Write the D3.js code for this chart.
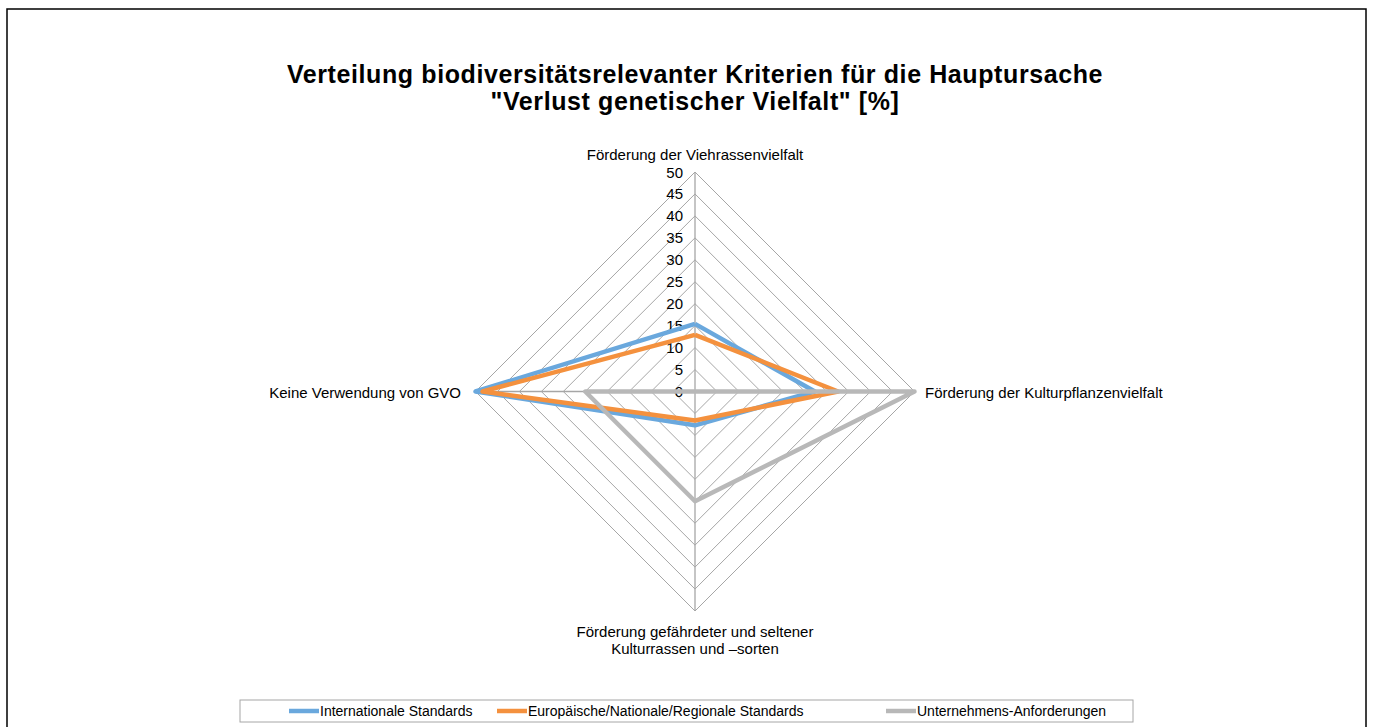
<!DOCTYPE html>
<html><head><meta charset="utf-8">
<script src="https://cdn.jsdelivr.net/npm/d3@7"></script>
<style>body{margin:0;background:#fff}svg{display:block}text{font-family:"Liberation Sans",Arial,sans-serif}</style>
</head><body>
<svg id="c" width="1375" height="727"></svg>
<script>
const categories = ["Förderung der Viehrassenvielfalt","Förderung der Kulturpflanzenvielfalt","Förderung gefährdeter und seltener\nKulturrassen und –sorten","Keine Verwendung von GVO"];
const seriesNames = ["Internationale Standards","Europäische/Nationale/Regionale Standards","Unternehmens-Anforderungen"];
const internationale = [15.4, 27.3, 7.7, 50];
const europaeische = [12.9, 32.6, 6.6, 48.4];
const unternehmen = [0, 50, 25, 25];
const ticks = [0,5,10,15,20,25,30,35,40,45,50];
const colors = ["#6AA8DD","#F4913E","#B8B8B8"];
const seriesVals = [internationale, europaeische, unternehmen];

const svg = d3.select("#c");
svg.append("rect").attr("x",7).attr("y",9).attr("width",1359).attr("height",740).attr("fill","#fff").attr("stroke","#000").attr("stroke-width",1.5);

const cx = 695, cy = 391.5, R = 219.5;
const r = d3.scaleLinear().domain([0,50]).range([0,R]);
const ang = i => i*Math.PI/2; // 0 = top, clockwise
const pt = (i,v) => [cx + r(v)*Math.sin(ang(i)), cy - r(v)*Math.cos(ang(i))];

// grid
const g = svg.append("g");
ticks.filter(t=>t>0).forEach(t=>{
  g.append("path").attr("d", d3.line()(categories.map((c,i)=>pt(i,t)).concat([pt(0,t)])))
   .attr("fill","none").attr("stroke","#a6a6a6").attr("stroke-width",1);
});
categories.forEach((c,i)=>{
  g.append("line").attr("x1",cx).attr("y1",cy).attr("x2",pt(i,50)[0]).attr("y2",pt(i,50)[1])
   .attr("stroke","#a6a6a6").attr("stroke-width",1.3);
});
// tick labels
ticks.forEach(t=>{
  svg.append("text").attr("x",cx-12).attr("y",cy - r(t)+5.5).attr("text-anchor","end")
   .attr("font-size",15).attr("fill","#000").text(t);
});

// series
const line = d3.line();
seriesVals.forEach((vals,s)=>{
  const pts = vals.map((v,i)=>pt(i,v)); pts.push(pts[0]);
  svg.append("path").attr("d",line(pts)).attr("fill","none").attr("stroke",colors[s])
   .attr("stroke-width",4.5).attr("stroke-linejoin","round");
});

// category labels
const lab = (x,y,anchor,txt)=>{
  const lines = txt.split("\n");
  const t = svg.append("text").attr("x",x).attr("y",y).attr("text-anchor",anchor).attr("font-size",15).attr("fill","#000");
  lines.forEach((l,k)=>t.append("tspan").attr("x",x).attr("dy",k?17:0).text(l));
};
lab(cx, 160, "middle", categories[0]);
lab(925, 398, "start", categories[1]);
lab(cx, 637, "middle", categories[2]);
lab(461, 398, "end", categories[3]);

// title
svg.append("text").attr("x",cx).attr("y",83).attr("text-anchor","middle").attr("font-size",25).attr("letter-spacing",0.6).attr("font-weight","bold").text("Verteilung biodiversitätsrelevanter Kriterien für die Hauptursache");
svg.append("text").attr("x",cx).attr("y",110).attr("text-anchor","middle").attr("font-size",25).attr("letter-spacing",0.6).attr("font-weight","bold").text("\"Verlust genetischer Vielfalt\" [%]");

// legend
svg.append("rect").attr("x",240).attr("y",700).attr("width",893).attr("height",22).attr("fill","#fff").attr("stroke","#a6a6a6").attr("stroke-width",1);
const legX = [289, 497, 886];
seriesNames.forEach((n,s)=>{
  svg.append("line").attr("x1",legX[s]).attr("x2",legX[s]+30).attr("y1",711).attr("y2",711).attr("stroke",colors[s]).attr("stroke-width",4.5);
  svg.append("text").attr("x",legX[s]+31).attr("y",716).attr("font-size",14).text(n);
});
</script>
</body></html>
